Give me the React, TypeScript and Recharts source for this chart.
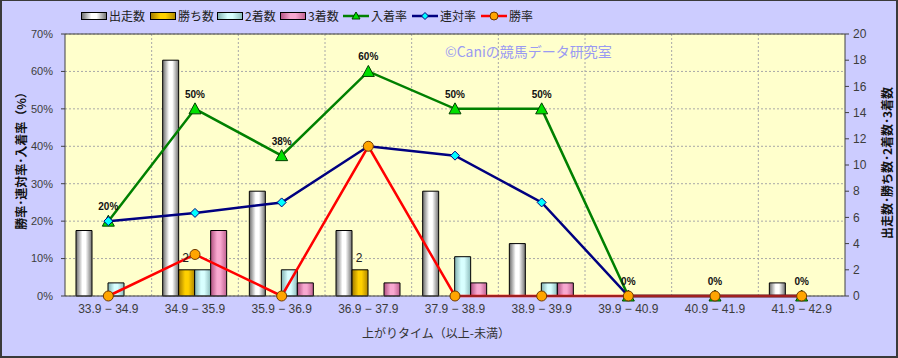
import React from 'react';
import { ComposedChart, Bar, Line, XAxis, YAxis, CartesianGrid, LabelList, ReferenceLine } from 'recharts';

const categories = ['33.9 − 34.9', '34.9 − 35.9', '35.9 − 36.9', '36.9 − 37.9', '37.9 − 38.9', '38.9 − 39.9', '39.9 − 40.9', '40.9 − 41.9', '41.9 − 42.9'];
const starts = [5, 18, 8, 5, 8, 4, 0, 0, 1];
const wins = [0, 2, 0, 2, 0, 0, 0, 0, 0];
const seconds = [1, 2, 2, 0, 3, 1, 0, 0, 0];
const thirds = [0, 5, 1, 1, 1, 1, 0, 0, 0];
const placeRate = [20, 50, 37.5, 60, 50, 50, 0, 0, 0];
const quinellaRate = [20, 22.2, 25, 40, 37.5, 25, 0, 0, 0];
const winRate = [0, 11.1, 0, 40, 0, 0, 0, 0, 0];

const leftTicks = [0, 10, 20, 30, 40, 50, 60, 70];
const rightTicks = [0, 2, 4, 6, 8, 10, 12, 14, 16, 18, 20];

const data = categories.map((c, i) => ({
  cat: c,
  starts: starts[i],
  wins: wins[i],
  seconds: seconds[i],
  thirds: thirds[i],
  placeRate: placeRate[i],
  quinellaRate: quinellaRate[i],
  winRate: winRate[i],
}));

const JP = '"Noto Sans CJK JP", "Liberation Sans", sans-serif';
const NUM = '"Liberation Sans", Arial, sans-serif';

const Triangle = (props: any) => {
  const { cx, cy } = props;
  if (cx == null || cy == null) return null;
  return <polygon points={`${cx},${cy - 6} ${cx - 6},${cy + 5} ${cx + 6},${cy + 5}`} fill="#00e000" stroke="#004000" strokeWidth={1} />;
};
const Diamond = (props: any) => {
  const { cx, cy } = props;
  if (cx == null || cy == null) return null;
  return <polygon points={`${cx},${cy - 4.5} ${cx + 4.5},${cy} ${cx},${cy + 4.5} ${cx - 4.5},${cy}`} fill="#00ffff" stroke="#000080" strokeWidth={1} />;
};
const Circle = (props: any) => {
  const { cx, cy } = props;
  if (cx == null || cy == null) return null;
  return <circle cx={cx} cy={cy} r={5} fill="#ffa500" stroke="#703800" strokeWidth={1} />;
};

const PctLabel = (props: any) => {
  const { x, y, value } = props;
  return (
    <text x={x} y={y - 11} textAnchor="middle" fontSize={10} fontWeight="bold" fill="#111" fontFamily={NUM}>
      {Math.round(value)}%
    </text>
  );
};
const WinLabel = (props: any) => {
  const { x, y, width, value } = props;
  if (!value) return null;
  return (
    <text x={x + width / 2 - 1} y={y - 8} textAnchor="middle" fontSize={12} fill="#222" fontFamily={NUM}>
      {value}
    </text>
  );
};

const barGrads = [
  { id: 'gStarts', edge: '#6a6a6a', mid: '#ffffff', dark: '#707070' },
  { id: 'gWins', edge: '#a07800', mid: '#ffd000', dark: '#b08600' },
  { id: 'gSeconds', edge: '#80b0b0', mid: '#d8ffff', dark: '#8cbcbc' },
  { id: 'gThirds', edge: '#b05080', mid: '#f8a8d0', dark: '#c06090' },
];

const legendItems = [
  { kind: 'bar', label: '出走数', grad: 'gStarts', x: 81 },
  { kind: 'bar', label: '勝ち数', grad: 'gWins', x: 150 },
  { kind: 'bar', label: '2着数', grad: 'gSeconds', x: 217 },
  { kind: 'bar', label: '3着数', grad: 'gThirds', x: 280 },
  { kind: 'line', label: '入着率', color: '#008000', marker: 'tri', x: 343 },
  { kind: 'line', label: '連対率', color: '#000080', marker: 'dia', x: 412 },
  { kind: 'line', label: '勝率', color: '#ff0000', marker: 'cir', x: 481 },
];

const LegendIcon = ({ item }: { item: any }) => {
  if (item.kind === 'bar') {
    return (
      <svg width={26} height={10} style={{ display: 'block' }}>
        <rect x={0.5} y={1.5} width={25} height={7} fill={`url(#${item.grad})`} stroke="#000" strokeWidth={1} />
      </svg>
    );
  }
  return (
    <svg width={26} height={12} style={{ display: 'block' }}>
      <line x1={0} y1={6} x2={26} y2={6} stroke={item.color} strokeWidth={2.5} />
      {item.marker === 'tri' && <polygon points="13,2 9,9 17,9" fill="#00e000" stroke="#004000" strokeWidth={1} />}
      {item.marker === 'dia' && <polygon points="13,2.5 16.5,6 13,9.5 9.5,6" fill="#00ffff" stroke="#000080" strokeWidth={1} />}
      {item.marker === 'cir' && <circle cx={13} cy={6} r={4} fill="#ffa500" stroke="#703800" strokeWidth={1} />}
    </svg>
  );
};

export default function App() {
  return (
    <div style={{ position: 'absolute', left: 0, top: 0, width: 898, height: 358, background: '#ccccff', overflow: 'hidden' }}>
      <svg width={0} height={0} style={{ position: 'absolute' }}>
        <defs>
          {barGrads.map((g) => (
            <linearGradient key={g.id} id={g.id} x1="0" y1="0" x2="1" y2="0">
              <stop offset="0%" stopColor={g.edge} />
              <stop offset="40%" stopColor={g.mid} />
              <stop offset="60%" stopColor={g.mid} />
              <stop offset="100%" stopColor={g.dark} />
            </linearGradient>
          ))}
        </defs>
      </svg>
      <div style={{ position: 'absolute', left: 0, top: 0 }}>
        <ComposedChart width={898} height={358} data={data} margin={{ top: 34, right: 8, bottom: 32, left: 8 }} barGap={0} barSize={16}>
          <CartesianGrid
            yAxisId="left"
            stroke="#a8a8a8"
            strokeDasharray="2 2"
            fill="#ffffcc"
            fillOpacity={1}
            verticalCoordinatesGenerator={({ offset }: any) =>
              categories.map((_, i) => offset.left + (i * offset.width) / categories.length).slice(1)
            }
          />
          <XAxis
            dataKey="cat"
            height={30}
            tickSize={0}
            tickMargin={8}
            tick={{ fontSize: 12, fill: '#3c3c3c', fontFamily: NUM }}
            axisLine={{ stroke: '#404040' }}
            interval={0}
          />
          <YAxis
            yAxisId="left"
            width={57}
            domain={[0, 70]}
            ticks={leftTicks}
            tickFormatter={(v: number) => `${v}%`}
            tickSize={4}
            tickMargin={8}
            tick={{ fontSize: 11, fill: '#3c3c3c', fontFamily: NUM }}
            axisLine={{ stroke: '#404040' }}
            tickLine={{ stroke: '#404040' }}
          />
          <YAxis
            yAxisId="right"
            orientation="right"
            width={45}
            domain={[0, 20]}
            ticks={rightTicks}
            tickSize={4}
            tickMargin={4}
            tick={{ fontSize: 12, fill: '#3c3c3c', fontFamily: NUM, textAnchor: 'start' }}
            axisLine={{ stroke: '#404040' }}
            tickLine={{ stroke: '#404040' }}
          />
          <ReferenceLine yAxisId="left" y={70} stroke="#404040" strokeWidth={1} />
          <Bar yAxisId="right" dataKey="starts" fill="url(#gStarts)" stroke="#000" strokeWidth={1} isAnimationActive={false} />
          <Bar yAxisId="right" dataKey="wins" fill="url(#gWins)" stroke="#000" strokeWidth={1} isAnimationActive={false}>
            <LabelList dataKey="wins" content={WinLabel} />
          </Bar>
          <Bar yAxisId="right" dataKey="seconds" fill="url(#gSeconds)" stroke="#000" strokeWidth={1} isAnimationActive={false} />
          <Bar yAxisId="right" dataKey="thirds" fill="url(#gThirds)" stroke="#000" strokeWidth={1} isAnimationActive={false} />
          <Line yAxisId="left" type="linear" dataKey="placeRate" stroke="#008000" strokeWidth={2.5} dot={<Triangle />} activeDot={false} isAnimationActive={false}>
            <LabelList dataKey="placeRate" content={PctLabel} />
          </Line>
          <Line yAxisId="left" type="linear" dataKey="quinellaRate" stroke="#000080" strokeWidth={2.5} dot={<Diamond />} activeDot={false} isAnimationActive={false} />
          <Line yAxisId="left" type="linear" dataKey="winRate" stroke="#ff0000" strokeWidth={2.5} dot={<Circle />} activeDot={false} isAnimationActive={false} />
        </ComposedChart>
      </div>

      {legendItems.map((it) => (
        <div key={it.label} style={{ position: 'absolute', left: it.x, top: 8, height: 16, display: 'flex', alignItems: 'center', gap: 2 }}>
          <LegendIcon item={it} />
          <span style={{ fontFamily: JP, fontSize: 12, color: '#222', lineHeight: '16px' }}>{it.label}</span>
        </div>
      ))}

      <div style={{ position: 'absolute', left: 445, top: 42, fontFamily: JP, fontSize: 14, color: '#9a9af2', lineHeight: '18px', whiteSpace: 'nowrap' }}>
        ©Caniの競馬データ研究室
      </div>

      <div style={{ position: 'absolute', left: 436, top: 325, transform: 'translateX(-50%)', fontFamily: JP, fontSize: 12, color: '#333', lineHeight: '16px', whiteSpace: 'nowrap' }}>
        上がりタイム（以上-未満）
      </div>

      <div style={{ position: 'absolute', left: 21, top: 158, transform: 'translate(-50%, -50%) rotate(-90deg)', fontFamily: JP, fontSize: 12, fontWeight: 'bold', color: '#111', lineHeight: '16px', whiteSpace: 'nowrap' }}>
        勝率･連対率･入着率（%）
      </div>

      <div style={{ position: 'absolute', left: 887, top: 163, transform: 'translate(-50%, -50%) rotate(-90deg)', fontFamily: JP, fontSize: 12, fontWeight: 'bold', color: '#111', lineHeight: '16px', whiteSpace: 'nowrap' }}>
        出走数･勝ち数･2着数･3着数
      </div>

      <div style={{ position: 'absolute', left: 0, top: 0, width: 898, height: 358, boxSizing: 'border-box', border: '2px solid #3a3a3a', borderTopWidth: 1, pointerEvents: 'none' }} />
    </div>
  );
}
